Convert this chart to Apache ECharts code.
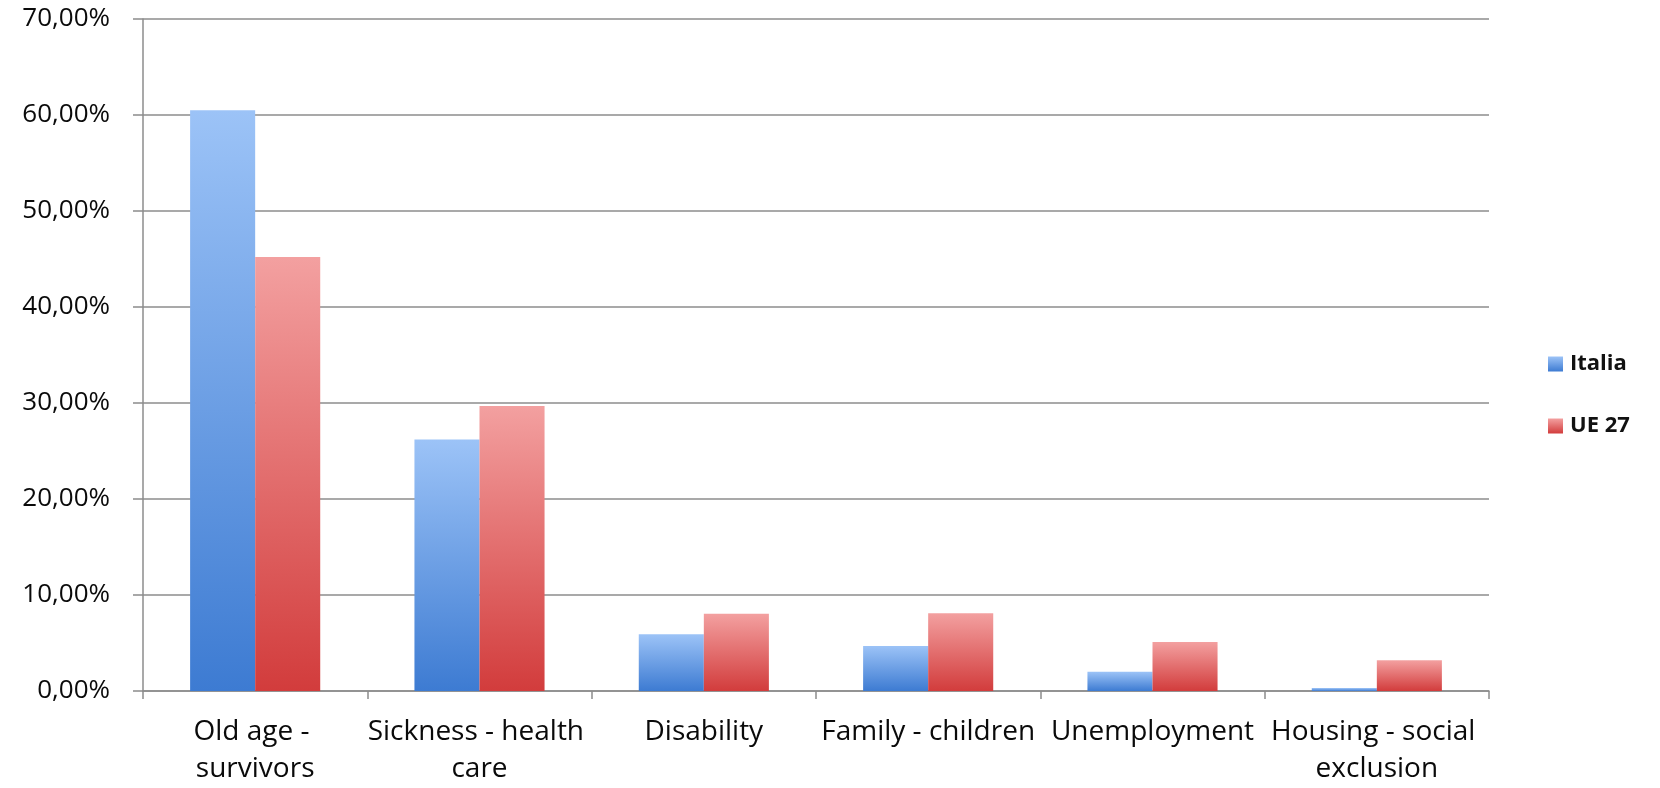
<!DOCTYPE html>
<html>
<head>
<meta charset="utf-8">
<script src="https://cdn.jsdelivr.net/npm/echarts@6/dist/echarts.min.js"></script>
<style>
html,body{margin:0;padding:0;background:#fff;}
#chart{width:1660px;height:788px;}
</style>
</head>
<body>
<div id="chart"></div>
<script>
const categories = ['Old age - survivors', 'Sickness - health care', 'Disability', 'Family - children', 'Unemployment', 'Housing - social exclusion'];
const italia = [60.5, 26.2, 5.9, 4.7, 2.0, 0.3];
const ue27 = [45.2, 29.7, 8.05, 8.1, 5.1, 3.2];
const seriesNames = ['Italia', 'UE 27'];

const FONT = '"Open Sans", Lato, sans-serif';

function grad(top, bottom) {
  return new echarts.graphic.LinearGradient(0, 0, 0, 1, [
    {offset: 0, color: top},
    {offset: 1, color: bottom}
  ]);
}

const chart = echarts.init(document.getElementById('chart'));
chart.setOption({
  backgroundColor: '#ffffff',
  animation: false,
  grid: {left: 143, right: 171, top: 19, bottom: 90, containLabel: false},
  legend: {
    orient: 'vertical',
    left: 1543,
    top: 346,
    itemWidth: 15,
    itemHeight: 15,
    itemGap: 36,
    icon: 'rect',
    textStyle: {fontFamily: FONT, fontSize: 22, lineHeight: 26, fontWeight: 'bold', color: '#111', padding: [0, 0, 0, 2]},
    data: seriesNames
  },
  xAxis: {
    type: 'category',
    data: categories,
    axisLine: {lineStyle: {color: '#8c8c8c', width: 1.5}},
    axisTick: {show: true, length: 8, lineStyle: {color: '#8c8c8c', width: 1.5}},
    axisLabel: {
      fontFamily: FONT,
      fontSize: 28,
      color: '#0a0a0a',
      margin: 23,
      lineHeight: 37,
      width: 226,
      overflow: 'break',
      interval: 0
    }
  },
  yAxis: {
    type: 'value',
    min: 0,
    max: 70,
    interval: 10,
    axisLine: {show: true, lineStyle: {color: '#8c8c8c', width: 1.5}},
    axisTick: {show: true, length: 10, lineStyle: {color: '#8c8c8c', width: 1.5}},
    splitLine: {lineStyle: {color: '#8c8c8c', width: 1.5}},
    axisLabel: {
      fontFamily: FONT,
      fontSize: 26,
      color: '#0a0a0a',
      margin: 33,
      padding: [8, 0, 0, 0],
      formatter: v => v.toFixed(2).replace('.', ',') + '%'
    }
  },
  series: [
    {
      name: seriesNames[0],
      type: 'bar',
      data: italia,
      barGap: '0%',
      barCategoryGap: '42%',
      itemStyle: {color: grad('#9cc3f7', '#3d7bd2')}
    },
    {
      name: seriesNames[1],
      type: 'bar',
      data: ue27,
      barGap: '0%',
      barCategoryGap: '42%',
      itemStyle: {color: grad('#f3a0a0', '#d23c3c')}
    }
  ]
});
</script>
</body>
</html>
